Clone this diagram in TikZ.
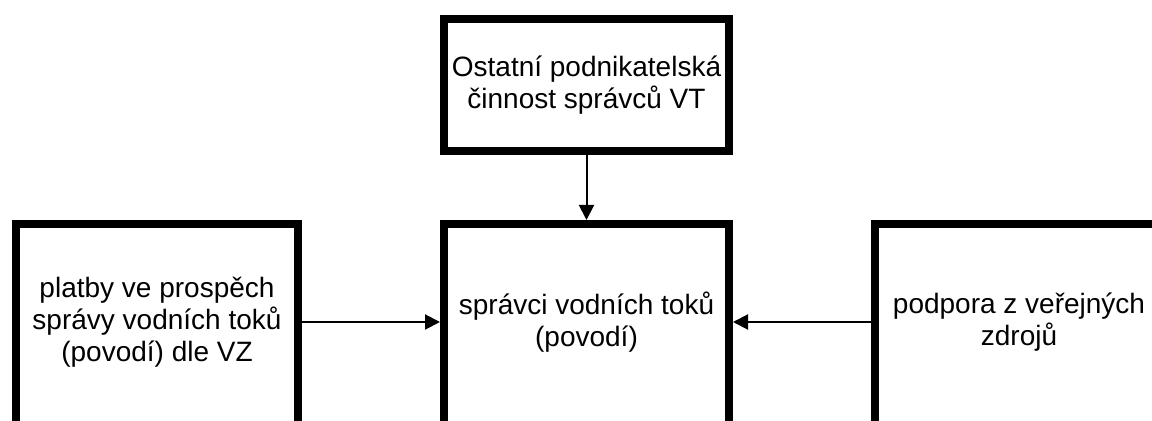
\documentclass[tikz,border=0pt]{standalone}
\usepackage{fontspec}
\setmainfont{Liberation Sans}
\usetikzlibrary{arrows.meta}

\tikzset{
  blok/.style={draw=black, line width=4pt, outer sep=2pt, align=center,
    minimum height=106pt, font=\fontsize{14pt}{16pt}\selectfont},
  txt/.style={align=center, yshift=4pt, font=\fontsize{14pt}{16pt}\selectfont},
  tok/.style={line width=1pt, -{Triangle[length=7.5pt,width=7.5pt]}}
}

\begin{document}
\begin{tikzpicture}[x=0.5pt, y=-0.5pt]
    \useasboundingbox (0,0) rectangle (1152,421);
    \clip (0,0) rectangle (1152,421);
    \node[blok, minimum width=142.5pt, minimum height=66pt](cin) at (586.5, 85)
      {Ostatní podnikatelská\\činnost správců VT};
    \node[blok, minimum width=142.5pt,
      label={[txt]center:{správci vodních toků\\(povodí)}}](spr) at (586.5, 330) {};
    \node[blok, minimum width=141pt,
      label={[txt]center:{platby ve prospěch\\správy vodních toků\\(povodí) dle VZ}}](pla) at (157, 330) {};
    \node[blok, minimum width=150pt,
      label={[txt, xshift=-3pt]center:{podpora z veřejných\\zdrojů}}](pod) at (1025, 330) {};
    \draw[tok] (cin.south) -- (spr.north);
    \draw[tok] ([yshift=4pt]pla.east) -- ([yshift=4pt]spr.west);
    \draw[tok] ([yshift=4pt]pod.west) -- ([yshift=4pt]spr.east);
  \end{tikzpicture}
\end{document}
